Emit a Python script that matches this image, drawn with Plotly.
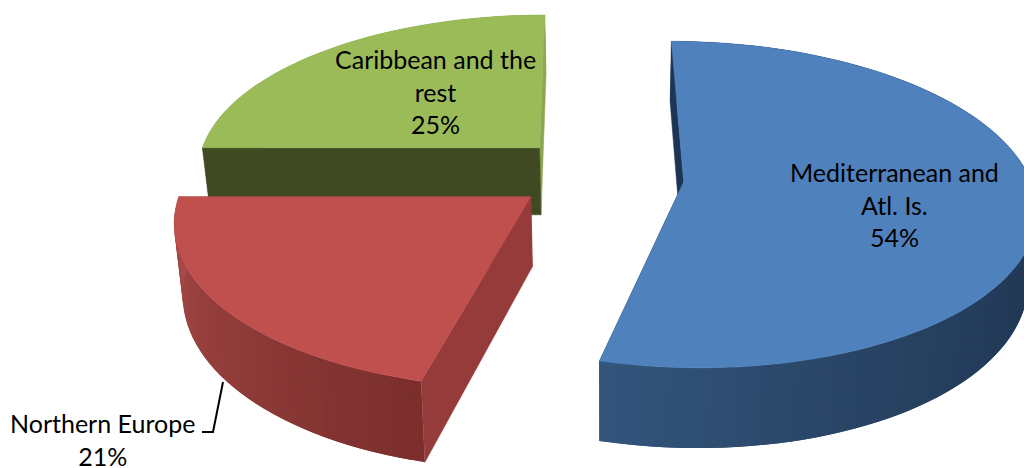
import math
import plotly.graph_objects as go

names = ["Mediterranean and<br>Atl. Is.", "Northern Europe", "Caribbean and the<br>rest"]
values = [54, 21, 25]
top_colors = ["#4f81bd", "#c0504d", "#9bbb59"]
wall_start = ["#1d314c", "#7a2e2c", "#8ca750"]
wall_end = ["#33567d", "#a84b48", "#8ca750"]
wall_power = [3.0, 1.0, 1.0]
radial_start = ["#1c3555", "#953b39", "#3f4a22"]
radial_end = ["#1f3555", "#953b39", "#8ca750"]
explode = [0.279, 0.195, 0.244]
explode_dir = [94, 235, 325]

XV, YH, K, C, R, H, S = 608, -970, 0.14, 1160, 350, 0.06, -0.01
NARROW = 0.02

def proj(x, y, z=0):
    w = 1 + K * y
    sx = XV + R * (x + S * y) / w
    return XV + (sx - XV) * (1 - NARROW * z), YH + C * (1 + H * z) / w

CX, CY = -0.06, 0.07

def mix(a, b, t):
    pa = [int(a[i:i+2], 16) for i in (1, 3, 5)]
    pb = [int(b[i:i+2], 16) for i in (1, 3, 5)]
    return "#%02x%02x%02x" % tuple(round(p + (q - p) * t) for p, q in zip(pa, pb))

fig = go.Figure()

def poly(pts, color, lw=0.5):
    xs = [p[0] for p in pts] + [pts[0][0]]
    ys = [p[1] for p in pts] + [pts[0][1]]
    fig.add_trace(go.Scatter(x=xs, y=ys, mode="lines", fill="toself", fillcolor=color,
                             line=dict(color=color, width=lw), hoverinfo="skip", showlegend=False))

total = sum(values)
starts, a = [], 0.0
for v in values:
    starts.append(a)
    a += 360 * v / total

def draw(i):
    a0 = starts[i]
    a1 = a0 + 360 * values[i] / total
    d = math.radians(explode_dir[i])
    ox = CX + explode[i] * math.sin(d)
    oy = CY + explode[i] * math.cos(d)
    n = max(8, int((a1 - a0) / 2))
    ang = [math.radians(a0 + (a1 - a0) * j / n) for j in range(n + 1)]
    rim = [(ox + math.sin(t), oy + math.cos(t)) for t in ang]
    poly([proj(ox, oy), proj(*rim[-1]), proj(*rim[-1], 1), proj(ox, oy, 1)], radial_end[i])
    for j in range(n):
        c = mix(wall_start[i], wall_end[i], ((j + 0.5) / n) ** wall_power[i])
        k = min(j + 2, n)
        strip = [proj(*r) for r in rim[j:k + 1]] + [proj(*r, 1) for r in rim[j:k + 1]][::-1]
        poly(strip, c, 0)
    poly([proj(ox, oy), proj(*rim[0]), proj(*rim[0], 1), proj(ox, oy, 1)], radial_start[i])
    poly([proj(ox, oy)] + [proj(*p) for p in rim], top_colors[i])

for i in (2, 0, 1):
    draw(i)

fig.add_trace(go.Scatter(x=[202, 213, 223], y=[432, 432, 382], mode="lines",
                         line=dict(color="#000000", width=2), hoverinfo="skip", showlegend=False))

label_pos = [(894, 204), (102, 439), (435, 91)]
for nm, v, (lx, ly) in zip(names, values, label_pos):
    fig.add_annotation(x=lx, y=ly, xref="x", yref="y", text=f"{nm}<br>{v}%", showarrow=False,
                       font=dict(family="Lato", size=25, color="#000000"), align="center")

fig.update_xaxes(range=[0, 1024], visible=False)
fig.update_yaxes(range=[468, 0], visible=False)
fig.update_layout(width=1024, height=468, margin=dict(l=0, r=0, t=0, b=0),
                  paper_bgcolor="white", plot_bgcolor="white", showlegend=False)
fig.write_html("out.html", post_script="document.body.style.margin='0';",
               config={"displayModeBar": False})
